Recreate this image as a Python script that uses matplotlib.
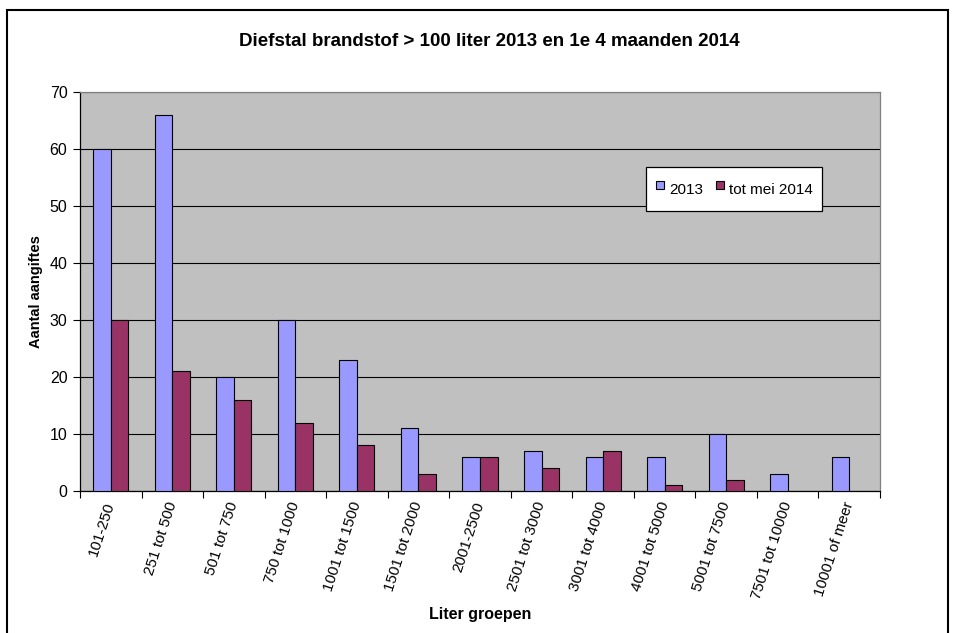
import matplotlib
matplotlib.use("Agg")
import matplotlib.pyplot as plt
import numpy as np
from matplotlib.lines import Line2D
from matplotlib.patches import Rectangle

plt.rcParams['font.family'] = ['Liberation Sans', 'DejaVu Sans']

categories = [
    "101-250", "251 tot 500", "501 tot 750", "750 tot 1000", "1001 tot 1500",
    "1501 tot 2000", "2001-2500", "2501 tot 3000", "3001 tot 4000",
    "4001 tot 5000", "5001 tot 7500", "7501 tot 10000", "10001 of meer",
]
values_2013 = [60, 66, 20, 30, 23, 11, 6, 7, 6, 6, 10, 3, 6]
values_2014 = [30, 21, 16, 12, 8, 3, 6, 4, 7, 1, 2, 0, 0]
series_labels = ["2013", "tot mei 2014"]

BLUE = "#9999FF"
PLUM = "#993366"
W, H = 958, 633

fig = plt.figure(figsize=(W / 100, H / 100), dpi=100)
ax = fig.add_axes([80 / W, 1 - 491 / H, 800 / W, 399 / H])
ax.set_facecolor("#C0C0C0")

x = np.arange(len(categories))
bw = 0.285
ax.bar(x - bw / 2, values_2013, bw, color=BLUE, edgecolor="black",
       linewidth=0.8, zorder=3)
bars2 = ax.bar(x + bw / 2, values_2014, bw, color=PLUM, edgecolor="black",
               linewidth=0.8, zorder=3)
for b, v in zip(bars2, values_2014):
    if v == 0:
        b.set_visible(False)

ax.set_xlim(-0.5, len(categories) - 0.5)
ax.set_ylim(0, 70)
ax.set_yticks(range(0, 71, 10))
ax.yaxis.grid(True, color="black", linewidth=0.8, zorder=1)
ax.set_axisbelow(True)

# ticks between groups, labels on the group centres
ax.set_xticks(np.arange(-0.5, len(categories), 1.0))
ax.set_xticklabels([])
ax.set_xticks(x, minor=True)
ax.set_xticklabels(categories, minor=True, rotation=72, ha="right",
                   va="center", rotation_mode="anchor", fontsize=11)
ax.tick_params(axis="x", which="minor", length=0, pad=8)
ax.tick_params(axis="x", which="major", direction="out", length=5, width=0.8)
ax.tick_params(axis="y", direction="out", length=5, width=0.8, labelsize=11.5,
               pad=4)

for side in ("left", "bottom"):
    ax.spines[side].set_color("black")
    ax.spines[side].set_linewidth(0.9)
for side in ("top", "right"):
    ax.spines[side].set_color("#808080")
    ax.spines[side].set_linewidth(0.9)

ax.set_ylabel("Aantal aangiftes", fontsize=10.5, fontweight="bold", labelpad=5)
fig.text(480 / W, 1 - 615 / H, "Liter groepen", fontsize=11.5,
         fontweight="bold", ha="center", va="center")
fig.text(489 / W, 1 - 42 / H, "Diefstal brandstof > 100 liter 2013 en 1e 4 maanden 2014",
         fontsize=13.5, fontweight="bold", ha="center", va="center")

handles = [
    Line2D([], [], marker="s", linestyle="none", markersize=5.8,
           markerfacecolor=c, markeredgecolor="black", markeredgewidth=0.8)
    for c in (BLUE, PLUM)
]
leg = ax.legend(handles, series_labels, loc="center",
                bbox_to_anchor=((734 - 80) / 800, (491 - 189) / 399),
                ncol=2, fontsize=11, frameon=True, fancybox=False, shadow=False,
                handlelength=0.6, handleheight=2.2, handletextpad=0.3,
                columnspacing=0.8, borderpad=0.6, borderaxespad=0)
leg.get_frame().set_edgecolor("black")
leg.get_frame().set_linewidth(0.9)
leg.get_frame().set_facecolor("white")
leg.get_frame().set_alpha(1)

border = Rectangle((7 / W, -0.05), (948 - 7) / W, 1 - 10 / H + 0.05,
                   transform=fig.transFigure, fill=False, edgecolor="black",
                   linewidth=1.5, clip_on=False)
fig.patches.append(border)

fig.savefig("out.png", dpi=100)
